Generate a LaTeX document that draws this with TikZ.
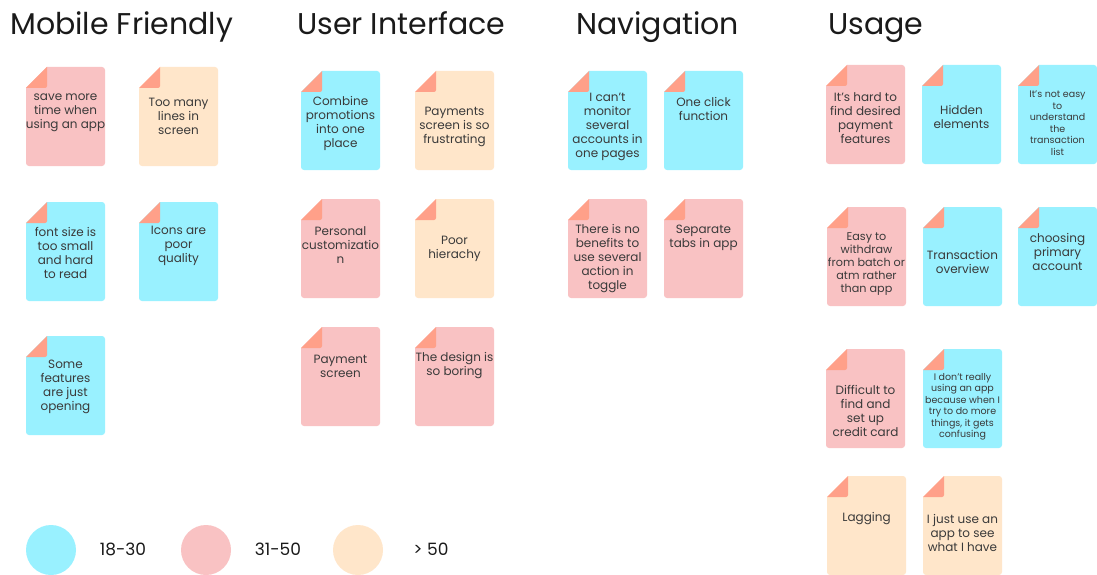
\documentclass[tikz,border=0pt]{standalone}
\usepackage{fontspec}
\setmainfont{Poppins}
\definecolor{ncyan}{HTML}{99F1FF}
\definecolor{npink}{HTML}{F9C2C3}
\definecolor{npeach}{HTML}{FFE6CA}
\definecolor{nfold}{HTML}{FFA089}
\definecolor{ntext}{HTML}{3A3A3A}
\definecolor{htext}{HTML}{1A1A1A}
\tikzset{
  heading/.style={anchor=base west, inner sep=0pt, text=htext, font=\fontsize{30}{32}\selectfont},
  notetext/.style={align=center, inner sep=0pt, text=ntext, font=\fontsize{12}{14}\selectfont},
  smalltext/.style={align=center, inner sep=0pt, text=ntext, font=\fontsize{9.5}{11.5}\selectfont},
  midtext/.style={align=center, inner sep=0pt, text=ntext, font=\fontsize{11.2}{13}\selectfont},
  legendtext/.style={anchor=center, inner sep=0pt, text=htext, font=\fontsize{17}{19}\selectfont},
  legenddot/.style={circle, minimum size=50pt, inner sep=0pt},
}
% #1 name, #2 x0, #3 y0, #4 colour, #5 text centre y, #6 text style, #7 text
\newcommand{\stickynote}[7]{%
  \fill[#4] ({#2},{#3+21}) -- ({#2+21},{#3}) [rounded corners=3pt] -- ({#2+79},{#3}) -- ({#2+79},{#3+99}) -- ({#2},{#3+99}) [sharp corners] -- cycle;
  \fill[nfold] ({#2},{#3+21}) -- ({#2+21},{#3}) [rounded corners=2pt] -- ({#2+21},{#3+21}) [sharp corners] -- cycle;
  \coordinate (#1-nw) at ({#2},{#3});
  \node[#6] (#1) at ({#2+39.5},{#5}) {#7};
}
\begin{document}
\begin{tikzpicture}[x=1pt,y=-1pt]
\useasboundingbox[fill=white] (0,0) rectangle (1097,575);

\node[heading] (h1) at (10,35) {Mobile Friendly};
\node[heading] (h2) at (297,35) {User Interface};
\node[heading] (h3) at (576,35) {Navigation};
\node[heading] (h4) at (828,35) {Usage};

% Mobile Friendly
\stickynote{mf1}{26}{67}{npink}{113}{notetext}{save more\\time when\\using an app}
\stickynote{mf2}{139}{67}{npeach}{116}{notetext}{Too many\\lines in\\screen}
\stickynote{mf3}{26}{202}{ncyan}{253}{notetext}{font size is\\too small\\and hard\\to read}
\stickynote{mf4}{139}{202}{ncyan}{246}{notetext}{Icons are\\poor\\quality}
\stickynote{mf5}{26}{336}{ncyan}{387}{notetext}{Some\\features\\are just\\opening}

% User Interface
\stickynote{ui1}{301}{71}{ncyan}{123}{notetext}{Combine\\promotions\\into one\\place}
\stickynote{ui2}{415}{71}{npeach}{127}{notetext}{Payments\\screen is so\\frustrating}
\stickynote{ui3}{301}{199}{npink}{245}{notetext}{Personal\\customizatio\\n}
\stickynote{ui4}{415}{199}{npeach}{249}{notetext}{Poor\\hierachy}
\stickynote{ui5}{301}{327}{npink}{366}{notetext}{Payment\\screen}
\stickynote{ui6}{415}{327}{npink}{366}{notetext}{The design is\\so boring}

% Navigation
\stickynote{nv1}{568}{71}{ncyan}{127}{notetext}{I can't\\monitor\\several\\accounts in\\one pages}
\stickynote{nv2}{664}{71}{ncyan}{109}{notetext}{One click\\function}
\stickynote{nv3}{568}{199}{npink}{259}{notetext}{There is no\\benefits to\\use several\\action in\\toggle}
\stickynote{nv4}{664}{199}{npink}{238}{notetext}{Separate\\tabs in app}

% Usage
\stickynote{us1}{826}{65}{npink}{118}{notetext}{It’s hard to\\find desired\\payment\\features}
\stickynote{us2}{922}{65}{ncyan}{117}{notetext}{Hidden\\elements}
\stickynote{us3}{1018}{65}{ncyan}{123}{smalltext}{It's not easy\\to\\understand\\the\\transaction\\list}
\stickynote{us4}{827}{207}{npink}{264}{midtext}{Easy to\\withdraw\\from batch or\\atm rather\\than app}
\stickynote{us5}{923}{207}{ncyan}{262}{notetext}{Transaction\\overview}
\stickynote{us6}{1018}{207}{ncyan}{252}{notetext}{choosing\\primary\\account}
\stickynote{us7}{826}{349}{npink}{411}{notetext}{Difficult to\\find and\\set up\\credit card}
\stickynote{us8}{923}{349}{ncyan}{407}{smalltext}{I don't really\\using an app\\because when I\\try to do more\\things, it gets\\confusing}
\stickynote{us9}{827}{476}{npeach}{519}{notetext}{Lagging}
\stickynote{us10}{923}{476}{npeach}{533}{notetext}{I just use an\\app to see\\what I have}

% Legend
\node[legenddot, fill=ncyan] (l1) at (51,550) {};
\node[legendtext] (t1) at (123,549) {18-30};
\node[legenddot, fill=npink] (l2) at (206,550) {};
\node[legendtext] (t2) at (278,549) {31-50};
\node[legenddot, fill=npeach] (l3) at (358,550) {};
\node[legendtext] (t3) at (431,549) {> 50};
\end{tikzpicture}
\end{document}
